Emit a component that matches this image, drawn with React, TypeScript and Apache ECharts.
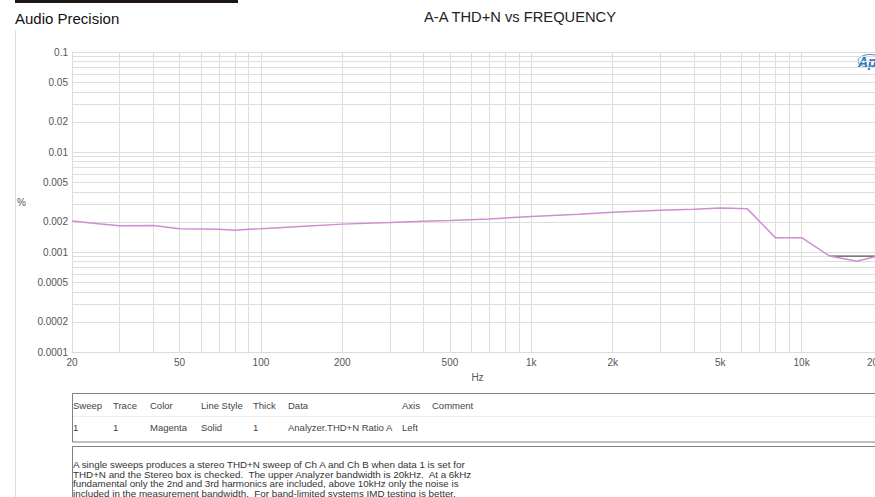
import React, { useEffect, useRef } from "react";
import * as echarts from "echarts";

// ---- data ----
const freqHz = [20, 25, 30, 40, 50, 60, 70, 80, 90, 100, 150, 200, 300, 420, 500, 700, 1000, 1500, 2000, 3000, 4000, 5000, 5500, 6300, 8000, 10000, 12700, 16000, 20000];
const thdnA = [0.00204, 0.00192, 0.00183, 0.00184, 0.00171, 0.0017, 0.00169, 0.00165, 0.00169, 0.00171, 0.00182, 0.0019, 0.00197, 0.00204, 0.00206, 0.00214, 0.00227, 0.00238, 0.0025, 0.00262, 0.00268, 0.00275, 0.00274, 0.0027, 0.00139, 0.00139, 0.00091, 0.00081, 0.00094];
const freqB = [12700, 16000, 20000];
const thdnB = [0.00091, 0.00091, 0.00091];

const xGridValues = [20, 30, 40, 50, 60, 70, 80, 90, 100, 200, 300, 400, 500, 600, 700, 800, 900, 1000, 2000, 3000, 4000, 5000, 6000, 7000, 8000, 9000, 10000, 20000];
const yGridValues = [0.0001, 0.0002, 0.0003, 0.0004, 0.0005, 0.0006, 0.0007, 0.0008, 0.0009, 0.001, 0.002, 0.003, 0.004, 0.005, 0.006, 0.007, 0.008, 0.009, 0.01, 0.02, 0.03, 0.04, 0.05, 0.06, 0.07, 0.08, 0.09, 0.1];
const xLabelValues = [20, 50, 100, 200, 500, 1000, 2000, 5000, 10000, 20000];
const xLabelTexts = ["20", "50", "100", "200", "500", "1k", "2k", "5k", "10k", "20k"];
const yLabelValues = [0.0001, 0.0002, 0.0005, 0.001, 0.002, 0.005, 0.01, 0.02, 0.05, 0.1];
const yLabelTexts = ["0.0001", "0.0002", "0.0005", "0.001", "0.002", "0.005", "0.01", "0.02", "0.05", "0.1"];

const tableHeaders = ["Sweep", "Trace", "Color", "Line Style", "Thick", "Data", "Axis", "Comment"];
const tableRow = ["1", "1", "Magenta", "Solid", "1", "Analyzer.THD+N Ratio A", "Left", ""];
const tableColX = [73, 113, 150, 201, 253, 288, 402, 432];
const commentLines = [
  "A single sweeps produces a stereo THD+N sweep of Ch A and Ch B when data 1 is set for",
  "THD+N and the Stereo box is checked.  The upper Analyzer bandwidth is 20kHz.  At a 6kHz",
  "fundamental only the 2nd and 3rd harmonics are included, above 10kHz only the noise is",
  "included in the measurement bandwidth.  For band-limited systems IMD testing is better.",
];

const FONT = "'Liberation Sans', Arial, sans-serif";

function lookup(vals: number[], texts: string[], v: number) {
  const i = vals.findIndex((x) => Math.abs(x - v) / x < 1e-6);
  return i >= 0 ? texts[i] : "";
}

export default function App() {
  const ref = useRef<HTMLDivElement>(null);
  useEffect(() => {
    document.body.style.margin = "0";
    const chart = echarts.init(ref.current!, undefined, { renderer: "svg" });
    const graphics: any[] = [
      { type: "rect", shape: { x: 15, y: 0, width: 223, height: 3 }, style: { fill: "#1e1612" } },
      { type: "line", shape: { x1: 15.5, y1: 30, x2: 15.5, y2: 497 }, style: { stroke: "#dedede", lineWidth: 1 } },
      { type: "text", x: 15, y: 18, style: { text: "Audio Precision", font: `15px ${FONT}`, fill: "#111", textVerticalAlign: "middle" } },
      { type: "text", x: 520, y: 17, style: { text: "A-A THD+N vs FREQUENCY", font: `14.7px ${FONT}`, fill: "#222", textAlign: "center", textVerticalAlign: "middle" } },
      { type: "text", x: 17, y: 202, style: { text: "%", font: `10px ${FONT}`, fill: "#555", textVerticalAlign: "middle" } },
      { type: "ellipse", shape: { cx: 870, cy: 61, rx: 12, ry: 6.5 }, style: { fill: "none", stroke: "#3a8fd0", lineWidth: 1 } },
      { type: "text", x: 858, y: 62, style: { text: "Ap", font: `italic bold 14px ${FONT}`, fill: "#2b7bbd", textVerticalAlign: "middle" } },
      { type: "rect", shape: { x: 72.5, y: 393.5, width: 820, height: 48.5 }, style: { fill: "none", stroke: "#808080", lineWidth: 1 } },
      { type: "line", shape: { x1: 73, y1: 416.5, x2: 875, y2: 416.5 }, style: { stroke: "#eeeeee", lineWidth: 1 } },
      { type: "rect", shape: { x: 72.5, y: 446.5, width: 820, height: 60 }, style: { fill: "none", stroke: "#808080", lineWidth: 1 } },
    ];
    tableHeaders.forEach((h, i) => {
      graphics.push({ type: "text", x: tableColX[i], y: 405, style: { text: h, font: `9.5px ${FONT}`, fill: "#444", textVerticalAlign: "middle" } });
    });
    tableRow.forEach((h, i) => {
      graphics.push({ type: "text", x: tableColX[i], y: 427, style: { text: h, font: `9.5px ${FONT}`, fill: "#444", textVerticalAlign: "middle" } });
    });
    commentLines.forEach((l, i) => {
      graphics.push({ type: "text", x: 73, y: 464.5 + i * 9.5, style: { text: l, font: `9.8px ${FONT}`, fill: "#333", textVerticalAlign: "middle" } });
    });

    chart.setOption({
      animation: false,
      backgroundColor: "#ffffff",
      textStyle: { fontFamily: FONT },
      grid: { left: 72, top: 52, width: 811, height: 300, containLabel: false, outerBoundsMode: "none" } as any,
      xAxis: {
        type: "log",
        logBase: 10,
        min: 20,
        max: 20000,
        name: "Hz",
        nameLocation: "middle",
        nameGap: 20,
        nameTextStyle: { fontSize: 10, color: "#555", fontFamily: FONT },
        axisLine: { show: true, lineStyle: { color: "#dcdcdc" } },
        axisTick: { show: false, customValues: xGridValues },
        splitLine: { show: true, lineStyle: { color: "#dedede", width: 1 } },
        axisLabel: {
          customValues: xLabelValues,
          fontSize: 10,
          color: "#555",
          margin: 5,
          fontFamily: FONT,
          alignMaxLabel: "right",
          formatter: (v: number) => lookup(xLabelValues, xLabelTexts, v),
        },
      },
      yAxis: {
        type: "log",
        logBase: 10,
        min: 0.0001,
        max: 0.1,
        axisLine: { show: true, lineStyle: { color: "#dcdcdc" } },
        axisTick: { show: false, customValues: yGridValues },
        splitLine: { show: true, lineStyle: { color: "#dedede", width: 1 } },
        axisLabel: {
          customValues: yLabelValues,
          fontSize: 10,
          color: "#555",
          margin: 4,
          fontFamily: FONT,
          formatter: (v: number) => lookup(yLabelValues, yLabelTexts, v),
        },
      },
      series: [
        {
          type: "line",
          name: "B",
          data: freqB.map((f, i) => [f, thdnB[i]]),
          symbol: "none",
          lineStyle: { color: "#5a5a48", width: 1.2 },
          z: 2,
        },
        {
          type: "line",
          name: "A",
          data: freqHz.map((f, i) => [f, thdnA[i]]),
          symbol: "none",
          lineStyle: { color: "#d08ed0", width: 1.5 },
          z: 3,
        },
      ],
      graphic: graphics,
    });
    return () => chart.dispose();
  }, []);
  return <div ref={ref} style={{ width: 875, height: 497 }} />;
}
